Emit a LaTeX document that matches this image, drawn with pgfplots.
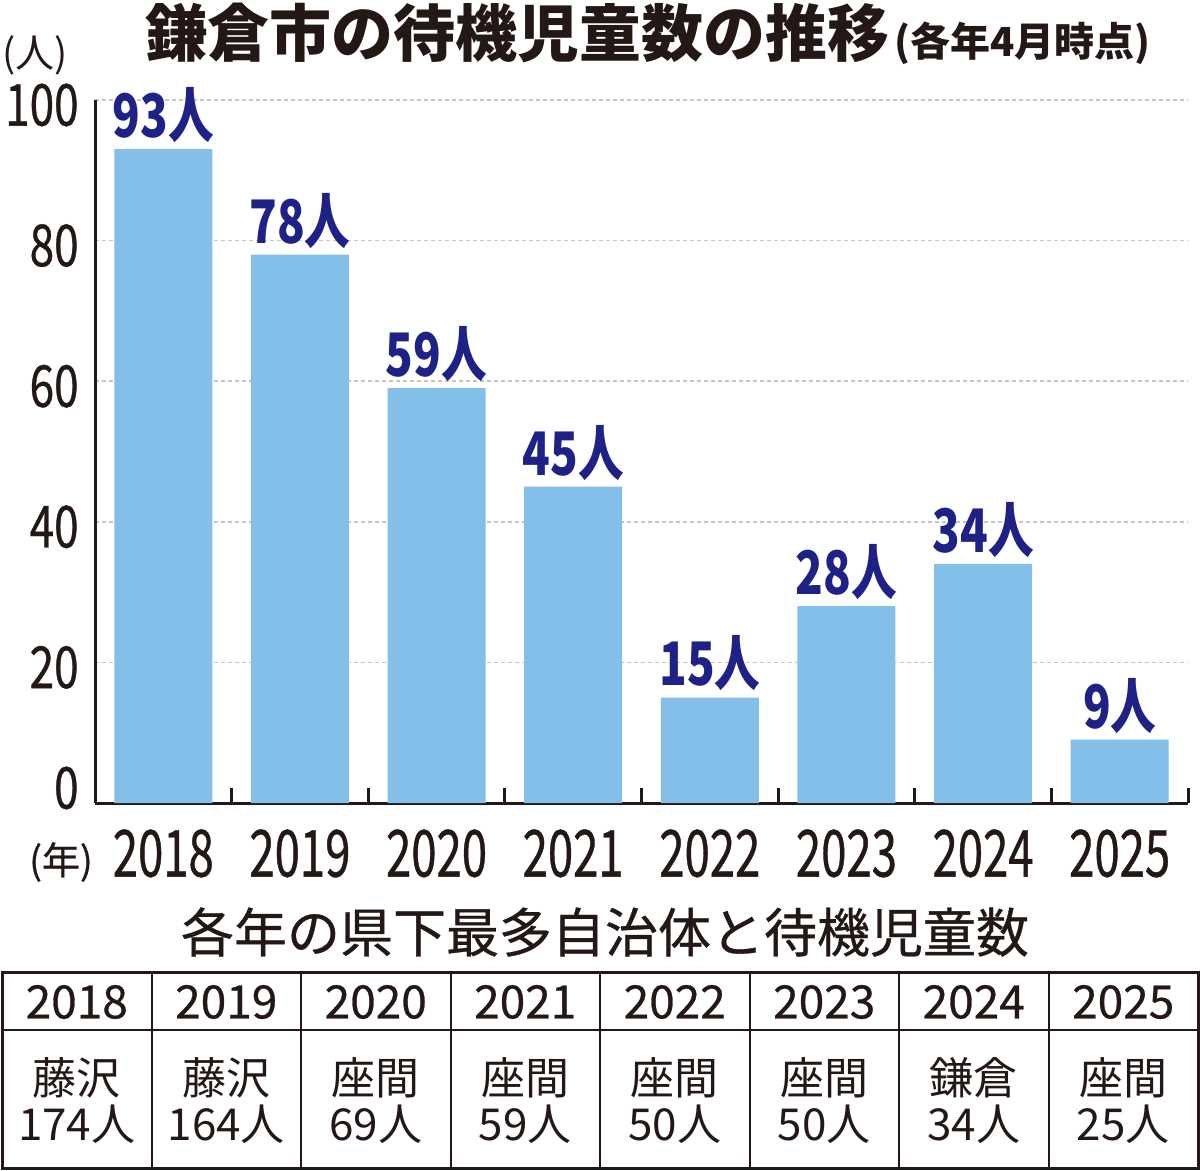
\documentclass[border=0pt]{standalone}
\usepackage{pgfplots}
\pgfplotsset{compat=1.18}
\usepackage{fontspec}
\setmainfont{Noto Sans CJK JP}
\newfontfamily\cond[FakeStretch=0.7,FakeBold=0.6]{Noto Sans CJK JP}
\newfontfamily\condy[FakeStretch=0.76,FakeBold=0.6]{Noto Sans CJK JP}
\newfontfamily\condb[FakeStretch=0.76]{Noto Sans CJK JP}
\newfontfamily\medf[FakeBold=0.6]{Noto Sans CJK JP}
\definecolor{ink}{HTML}{231815}
\definecolor{barblue}{HTML}{83BFE8}
\definecolor{navy}{HTML}{1E2287}
\begin{document}
\begin{tikzpicture}
\begin{axis}[
  at={(47.5pt,-401.5pt)}, anchor=south west,
  scale only axis, width=546.5pt, height=351.5pt,
  xmin=-0.5, xmax=7.5, ymin=0, ymax=100,
  clip=false,
  axis x line=bottom, axis y line=left,
  axis line style={-, line width=1.5pt, color=ink},
  /pgf/number format/assume math mode=true,
  ybar, bar width=49pt,
  xtick={0,1,2,3,4,5,6,7},
  xticklabels={2018,2019,2020,2021,2022,2023,2024,2025},
  minor xtick={0.5,1.5,2.5,3.5,4.5,5.5,6.5,7.5},
  ytick={0,20,40,60,80,100},
  major tick length=0pt, minor tick length=7.5pt,
  tick align=inside,
  minor tick style={line width=1.5pt, color=ink},
  ymajorgrids,
  grid style={dash pattern=on 2pt off 1.5pt, color=gray!45, line width=0.8pt},
  xticklabel style={font=\cond\fontsize{32.5}{33}\selectfont, text=ink, anchor=north, inner sep=0pt, yshift=-13pt},
  yticklabel style={font=\condy\fontsize{29}{29}\selectfont, text=ink, anchor=east, inner sep=0pt, xshift=-8pt, yshift={ifthenelse(\tick<1,7.5,-2.5)*1pt}},
  nodes near coords={\pgfmathprintnumber{\pgfplotspointmeta}人},
  nodes near coords style={font=\condb\bfseries\fontsize{30}{30}\selectfont, text=navy, inner sep=0pt, anchor=south, yshift=3pt},
]
\addplot[fill=barblue, draw=none] coordinates {(0,93) (1,78) (2,59) (3,45) (4,15) (5,28) (6,34) (7,9)};
\end{axis}
\begin{scope}[x=0.5pt,y=-0.5pt]
\path[use as bounding box] (0,0) rectangle (1200,1171);
\node[anchor=base west, inner sep=0pt, text=ink] at (145,57) {\bfseries\fontsize{31}{31}\selectfont 鎌倉市の待機児童数の推移\hspace{2.5pt}\fontsize{20}{20}\selectfont (各年4月時点)};
\node[text=ink, inner sep=0pt] at (35,55) {\fontsize{19.5}{20}\selectfont (人)};
\node[text=ink, inner sep=0pt] at (61,862) {\medf\fontsize{19}{19}\selectfont (年)};
\node[text=ink, inner sep=0pt] at (605,932) {\medf\fontsize{26.5}{27}\selectfont 各年の県下最多自治体と待機児童数};
\draw[line width=1.5pt, ink] (2,972) rectangle (1198,1168);
\draw[line width=1pt, ink] (2,1030) -- (1198,1030);
\foreach \i in {1,...,7}{\draw[line width=1pt, ink] ({2+149.5*\i},972) -- ({2+149.5*\i},1168);}
\foreach \y/\c/\n [count=\i from 0] in {2018/藤沢/174,2019/藤沢/164,2020/座間/69,2021/座間/59,2022/座間/50,2023/座間/50,2024/鎌倉/34,2025/座間/25}{
  \pgfmathsetmacro\cx{76.75+149.5*\i}
  \node[text=ink, inner sep=0pt] at (\cx,1002) {\medf\fontsize{23}{23}\selectfont\y};
  \node[text=ink, inner sep=0pt] at (\cx,1078) {\fontsize{22}{22}\selectfont\c};
  \node[text=ink, inner sep=0pt] at (\cx,1124) {\fontsize{22}{22}\selectfont\n 人};
}
\end{scope}
\end{tikzpicture}
\end{document}
